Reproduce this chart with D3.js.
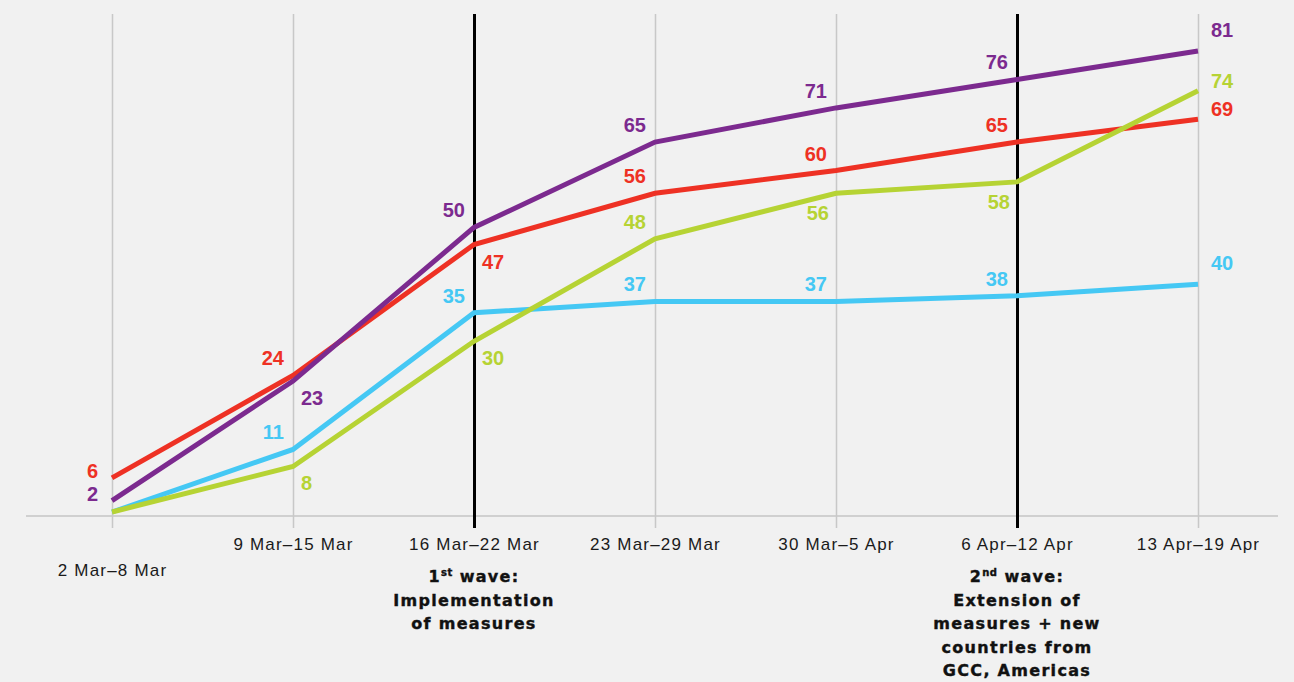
<!DOCTYPE html>
<html>
<head>
<meta charset="utf-8">
<script src="https://cdn.jsdelivr.net/npm/d3@7"></script>
<style>
  body { margin: 0; background: #f1f1f1; }
  svg { display: block; }
</style>
</head>
<body>
<script>
// weeks on the x axis
const weeks = ['2 Mar\u20138 Mar', '9 Mar\u201315 Mar', '16 Mar\u201322 Mar', '23 Mar\u201329 Mar',
               '30 Mar\u20135 Apr', '6 Apr\u201312 Apr', '13 Apr\u201319 Apr'];

// series values
const purpleValues = [2, 23, 50, 65, 71, 76, 81];
const redValues    = [6, 24, 47, 56, 60, 65, 69];
const greenValues  = [0, 8, 30, 48, 56, 58, 74];
const blueValues   = [0, 11, 35, 37, 37, 38, 40];

// where each value label sits relative to its point (null = no label)
const purpleLabelPos = ['l', 'dr', 'ul', 'ul', 'ul', 'ul', 'ru'];
const redLabelPos    = ['l', 'ul', 'dr', 'ul', 'ul', 'ul', 'r'];
const greenLabelPos  = [null, 'dr', 'dr', 'ul', 'dl', 'dl', 'r'];
const blueLabelPos   = [null, 'ul', 'ul', 'ul', 'ul', 'ul', 'ru'];

// wave annotations under the black lines
const waveWeeks = [2, 5];
const waveNotes = [
  [['1', 'st', ' wave:'], 'Implementation', 'of measures'],
  [['2', 'nd', ' wave:'], 'Extension of', 'measures + new', 'countries from', 'GCC, Americas']
];

const width = 1294, height = 682;
const topY = 14, baseY = 516;

const svg = d3.select('body').append('svg')
  .attr('width', width)
  .attr('height', height)
  .style('background', '#f1f1f1');

const x = d3.scalePoint().domain(d3.range(weeks.length)).range([112, 1198]);
const y = d3.scaleLinear().domain([0, 81]).range([512, 51]);

// baseline
svg.append('line')
  .attr('x1', 26).attr('x2', 1278)
  .attr('y1', baseY).attr('y2', baseY)
  .attr('stroke', '#c4c4c4').attr('stroke-width', 1.5);

// axis with full-height gridlines
const axis = svg.append('g')
  .attr('transform', `translate(0,${baseY})`)
  .call(d3.axisBottom(x).tickSize(12).tickFormat(i => weeks[i]));
axis.select('.domain').remove();
axis.selectAll('.tick line')
  .attr('y1', topY - baseY)
  .attr('y2', 12)
  .attr('stroke', d => waveWeeks.includes(d) ? '#000' : '#c8c8c8')
  .attr('stroke-width', d => waveWeeks.includes(d) ? 3 : 1.5);
axis.selectAll('.tick text')
  .attr('y', d => d === 0 ? 60 : 34)
  .attr('dy', 0)
  .attr('fill', '#1a1a1a')
  .style('font-family', 'Liberation Sans, Arial, sans-serif')
  .style('font-size', '17px')
  .style('letter-spacing', '1.2px');

// wave notes
waveWeeks.forEach((w, k) => {
  const t = svg.append('text')
    .attr('x', x(w))
    .attr('y', 582)
    .attr('text-anchor', 'middle')
    .attr('fill', '#111')
    .attr('stroke', '#111')
    .attr('stroke-width', 0.4)
    .style('font-family', 'DejaVu Sans, sans-serif')
    .style('font-weight', 'bold')
    .style('font-size', '16px')
    .style('letter-spacing', '1.3px');
  waveNotes[k].forEach(line => {
    if (Array.isArray(line)) {
      t.append('tspan').attr('x', x(w)).attr('dy', 0).text(line[0]);
      t.append('tspan').attr('dy', -6).style('font-size', '10px').style('letter-spacing', '0.5px').text(line[1]);
      t.append('tspan').attr('dy', 6).text(line[2]);
    } else {
      t.append('tspan').attr('x', x(w)).attr('dy', 23.5).text(line);
    }
  });
});

const series = [
  { values: blueValues,   labels: blueLabelPos,   color: '#45c8f4' },
  { values: redValues,    labels: redLabelPos,    color: '#ee3124' },
  { values: greenValues,  labels: greenLabelPos,  color: '#b6d334' },
  { values: purpleValues, labels: purpleLabelPos, color: '#7c2a8f' }
];

const line = d3.line()
  .x((d, i) => x(i))
  .y(d => y(d));

svg.append('g').selectAll('path')
  .data(series)
  .enter().append('path')
  .attr('d', s => line(s.values))
  .attr('fill', 'none')
  .attr('stroke', s => s.color)
  .attr('stroke-width', 5)
  .attr('stroke-linejoin', 'miter');

const offsets = {
  l:  { dx: -14, dy: 0,   anchor: 'end' },
  ul: { dx: -9,  dy: -10, anchor: 'end' },
  dr: { dx: 8,   dy: 24,  anchor: 'start' },
  dl: { dx: -7,  dy: 27,  anchor: 'end' },
  r:  { dx: 13,  dy: -3,  anchor: 'start' },
  ru: { dx: 13,  dy: -14, anchor: 'start' }
};

series.forEach(s => {
  const pts = s.values.map((v, i) => ({ v, i, pos: s.labels[i] })).filter(p => p.pos);
  svg.append('g').selectAll('text')
    .data(pts)
    .enter().append('text')
    .attr('x', p => x(p.i) + offsets[p.pos].dx)
    .attr('y', p => y(p.v) + offsets[p.pos].dy)
    .attr('text-anchor', p => offsets[p.pos].anchor)
    .attr('fill', s.color)
    .style('font-family', 'Liberation Sans, Arial, sans-serif')
    .style('font-weight', 'bold')
    .style('font-size', '20px')
    .text(p => p.v);
});
</script>
</body>
</html>
